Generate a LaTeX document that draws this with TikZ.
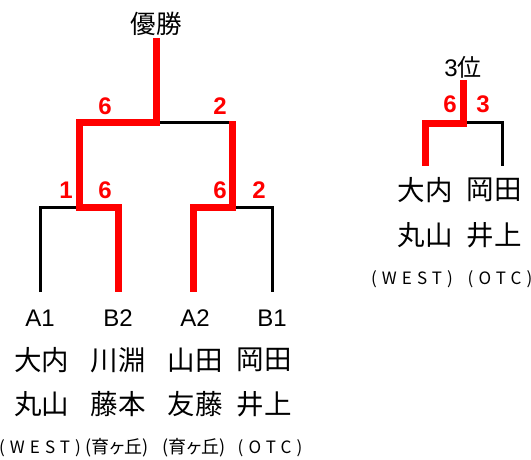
\documentclass[tikz,border=0pt]{standalone}
\usepackage{fontspec}
\setmainfont{Liberation Sans}
\newfontfamily\jpfont{Noto Sans CJK JP}
\usetikzlibrary{positioning}

\begin{document}
\begin{tikzpicture}[y=1pt, x=1pt, yscale=-1, inner sep=0pt, outer sep=0pt,
  lose/.style={draw=black,line width=3pt,line join=miter},
  won/.style={draw=red,line width=7pt,line join=miter},
  score/.style={text=red,font=\fontsize{24}{24}\selectfont\bfseries},
  seed/.style={font=\fontsize{24}{24}\selectfont},
  player/.style={font=\jpfont\fontsize{27.5}{28}\selectfont},
  club/.style={font=\jpfont\fontsize{17}{17}\selectfont\addfontfeature{LetterSpace=30}},
  jclub/.style={font=\jpfont\fontsize{18}{18}\selectfont\addfontfeature{RawFeature=+palt}}]
\useasboundingbox (0,0) rectangle (531,459);
\coordinate (top) at (156,38);
\coordinate (fin) at (156,122);
\coordinate (sl) at (79,122);
\coordinate (sr) at (232,121);
\coordinate (ql) at (79,207);
\coordinate (qr) at (232,207);
\coordinate (a1t) at (40,207);
\coordinate (b2t) at (118,207);
\coordinate (a2t) at (193,207);
\coordinate (b1t) at (272,207);
\coordinate (a1) at (40,292);
\coordinate (b2) at (118,292);
\coordinate (a2) at (193,292);
\coordinate (b1) at (272,292);
\path[lose] (fin) -- (232,122);
\path[lose] (a1) -- (a1t) -- (ql);
\path[lose] (qr) -- (b1t) -- (b1);
\path[won] (top) -- (fin) -- (sl) -- (ql) -- (b2t) -- (b2);
\path[won] (sr) -- (qr) -- (a2t) -- (a2);
\node (title) at (156,24) {\jpfont\fontsize{25.5}{26}\selectfont 優勝};
\node[score] (s1) at (105,106) {6};
\node[score] (s2) at (220,106) {2};
\node[score] (s3) at (66,190) {1};
\node[score] (s4) at (105,190) {6};
\node[score] (s5) at (220,190) {6};
\node[score] (s6) at (259,190) {2};
\node[seed] (na1) at (40,318) {A1};
\node[seed] (nb2) at (118,318) {B2};
\node[seed] (na2) at (195,318) {A2};
\node[seed] (nb1) at (272,318) {B1};
\node[player] (p1) at (42,360) {大内};
\node[player] (p2) at (118,360) {川淵};
\node[player] (p3) at (195,360) {山田};
\node[player] (p4) at (264,360) {岡田};
\node[player] (p5) at (42,404) {丸山};
\node[player] (p6) at (118,404) {藤本};
\node[player] (p7) at (195,404) {友藤};
\node[player] (p8) at (264,404) {井上};
\node[club] (c1) at (40,448) {(WEST)};
\node[jclub] (c2) at (117,448) {(育ヶ丘)};
\node[jclub] (c3) at (194,448) {(育ヶ丘)};
\node[club] (c4) at (270,448) {(OTC)};
% third place
\coordinate (ttop) at (463,80);
\coordinate (tj) at (463,123);
\coordinate (tl) at (425,123);
\coordinate (tr) at (502,122);
\coordinate (tlb) at (425,166);
\coordinate (trb) at (502,166);
\path[lose] (463,122) -- (tr) -- (trb);
\path[won] (ttop) -- (tj) -- (tl) -- (tlb);
\node (third) at (463,67) {\fontsize{24}{24}\selectfont 3\jpfont 位};
\node[score] (t1) at (450,104) {6};
\node[score] (t2) at (483,104) {3};
\node[player] (q1) at (425,190) {大内};
\node[player] (q2) at (494,190) {岡田};
\node[player] (q3) at (425,235) {丸山};
\node[player] (q4) at (494,235) {井上};
\node[club] (d1) at (412,279) {(WEST)};
\node[club] (d2) at (500,279) {(OTC)};
\end{tikzpicture}
\end{document}
